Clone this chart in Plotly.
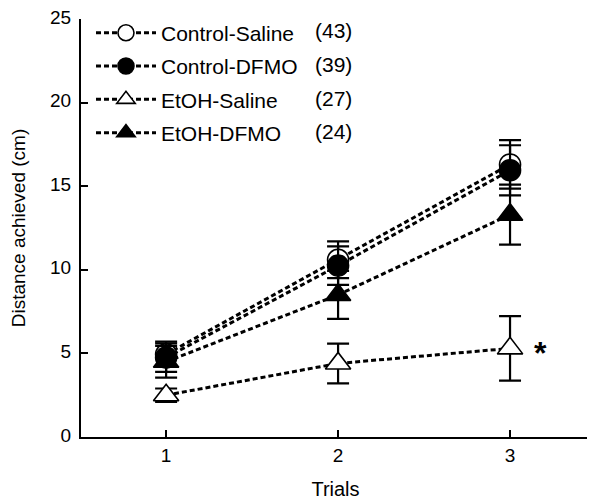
import plotly.graph_objects as go

trials = [1, 2, 3]
groups = ["Control-Saline", "Control-DFMO", "EtOH-Saline", "EtOH-DFMO"]
counts = ["(43)", "(39)", "(27)", "(24)"]
cs_mean = [4.95, 10.6, 16.3]
cs_err = [0.75, 1.1, 1.45]
cd_mean = [4.75, 10.25, 15.95]
cd_err = [0.85, 1.15, 1.5]
es_mean = [2.5, 4.4, 5.3]
es_err = [0.4, 1.19, 1.93]
ed_mean = [4.5, 8.5, 13.3]
ed_err = [0.95, 1.43, 1.8]

means = [cs_mean, cd_mean, es_mean, ed_mean]
errs = [cs_err, cd_err, es_err, ed_err]
symbols = ["circle", "circle", "triangle-up", "triangle-up"]
sizes = [21, 21, 22, 22]
fills = ["white", "black", "white", "black"]

fig = go.Figure()
for i, g in enumerate(groups):
    fig.add_trace(go.Scatter(
        x=trials, y=means[i], name=g, mode="lines+markers",
        legendgroup=g,
        line=dict(color="black", width=3, dash="5px,3px"),
        marker=dict(symbol=symbols[i], size=sizes[i], color=fills[i],
                    line=dict(color="black", width=1.6)),
        error_y=dict(type="data", array=errs[i], color="black", thickness=2.2, width=11),
    ))

fig.add_annotation(x=3, y=es_mean[2], xref="x", yref="y", text="<b>*</b>", showarrow=False,
                   xshift=30, yshift=-5, font=dict(size=32, color="black", family="Liberation Sans"))

# legend count column, rows aligned with the legend entries (paper coords)
row_y = [0.972, 0.890, 0.811, 0.732]
for c, yy in zip(counts, row_y):
    fig.add_annotation(x=0.455, y=yy, xref="paper", yref="paper", text=c, showarrow=False,
                       xanchor="left", yanchor="middle", font=dict(size=21, color="black"))

fig.update_layout(
    template="none",
    width=587, height=492,
    margin=dict(l=73, r=5, t=11, b=63, autoexpand=False),
    paper_bgcolor="white", plot_bgcolor="white",
    font=dict(family="Liberation Sans, Arial, sans-serif", color="black", size=19),
    showlegend=True,
    legend=dict(x=0.0196, y=1.0153, xanchor="left", yanchor="top",
                font=dict(size=21, color="black"),
                traceorder="grouped", tracegroupgap=3, itemwidth=60,
                bgcolor="rgba(0,0,0,0)", borderwidth=0),
    xaxis=dict(range=[0.505, 3.465], tickvals=trials, ticktext=["1", "2", "3"],
               showline=True, linecolor="black", linewidth=2, ticks="inside",
               ticklen=7, tickwidth=2, tickcolor="black", showgrid=False, zeroline=False,
               ticklabelstandoff=0, automargin=False, ticklabeloverflow="allow",
               title=dict(text="Trials", standoff=33, font=dict(size=20, color="black")),
               tickfont=dict(size=19, color="black")),
    yaxis=dict(range=[0, 25], tickvals=[0, 5, 10, 15, 20, 25],
               showline=True, linecolor="black", linewidth=2, ticks="inside",
               ticklen=7, tickwidth=2, tickcolor="black", showgrid=False, zeroline=False,
               ticklabelstandoff=4, ticklabelshift=-2, automargin=False, ticklabeloverflow="allow",
               title=dict(text="Distance achieved (cm)", standoff=31, font=dict(size=19, color="black")),
               tickfont=dict(size=19, color="black")),
)

fig.write_html("out.html")
